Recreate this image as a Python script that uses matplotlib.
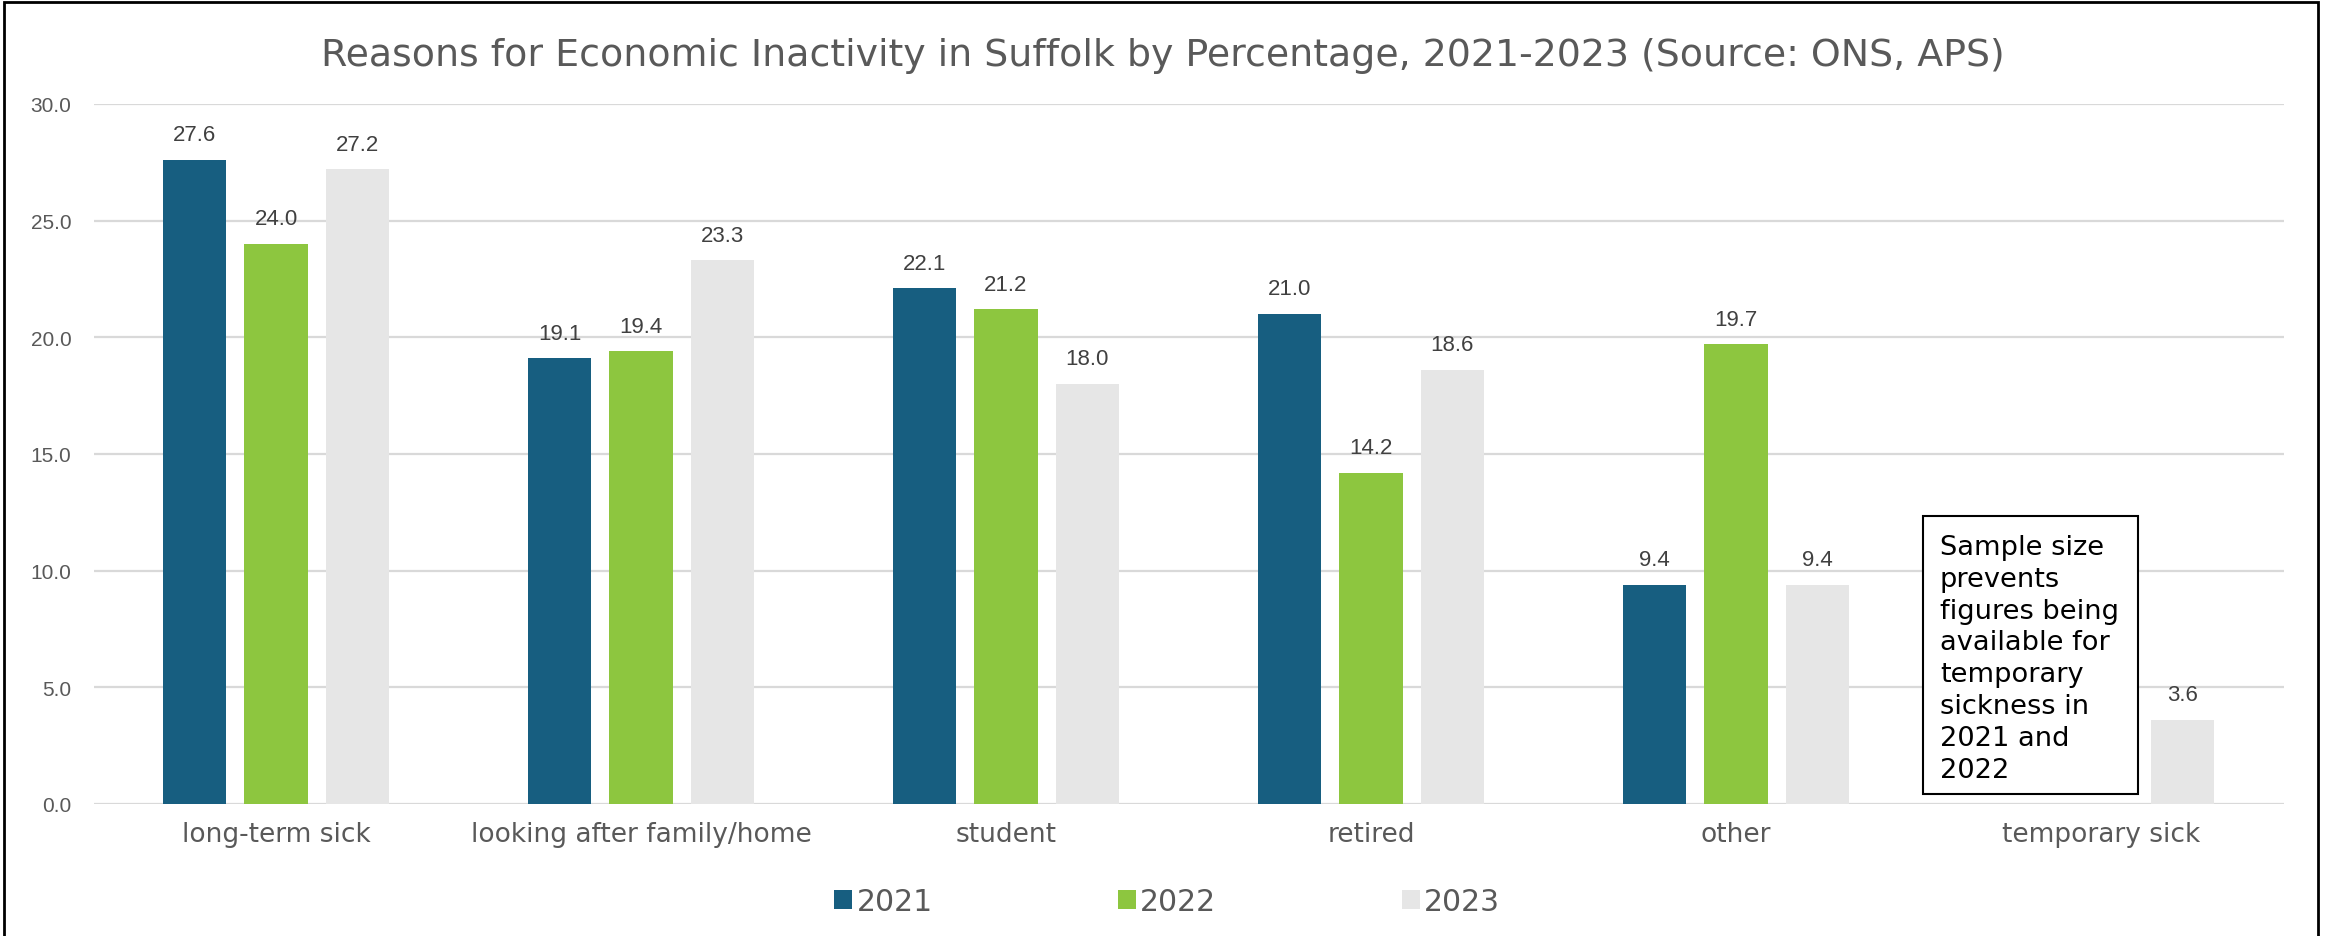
import matplotlib
matplotlib.use("Agg")
import matplotlib.pyplot as plt
from matplotlib.patches import Rectangle
import numpy as np

categories = ["long-term sick", "looking after family/home", "student", "retired", "other", "temporary sick"]
years = ["2021", "2022", "2023"]
v2021 = [27.6, 19.1, 22.1, 21.0, 9.4, None]
v2022 = [24.0, 19.4, 21.2, 14.2, 19.7, None]
v2023 = [27.2, 23.3, 18.0, 18.6, 9.4, 3.6]
yticks = [0, 5, 10, 15, 20, 25, 30]
title = "Reasons for Economic Inactivity in Suffolk by Percentage, 2021-2023 (Source: ONS, APS)"
note = "Sample size\nprevents\nfigures being\navailable for\ntemporary\nsickness in\n2021 and\n2022"

colors = ["#175E80", "#8DC63F", "#E6E6E6"]
W, H = 2325, 937
fig = plt.figure(figsize=(W / 100, H / 100), dpi=100)
ax = fig.add_axes([93.5 / W, 1 - 805 / H, (2283.5 - 93.5) / W, 700 / H])

x = np.arange(len(categories))
offsets = [-0.223, 0.0, 0.223]
bw = 0.174
for vals, off, col, yr in zip([v2021, v2022, v2023], offsets, colors, years):
    xs = [xi + off for xi, v in zip(x, vals) if v is not None]
    ys = [v for v in vals if v is not None]
    bars = ax.bar(xs, ys, width=bw, color=col, label=yr, zorder=3)
    for b, v in zip(bars, ys):
        ax.annotate(f"{v:.1f}", (b.get_x() + b.get_width() / 2, v),
                    xytext=(0, 18), textcoords="offset points",
                    ha="center", va="center", fontsize=16,
                    family="Liberation Sans", color="#404040")

ax.set_xlim(-0.5, len(categories) - 0.5)
ax.set_ylim(0, 30)
ax.set_yticks(yticks)
ax.set_yticklabels([f"{t:.1f}" for t in yticks], family="Liberation Sans", fontsize=15, color="#595959")
ax.set_xticks(x)
ax.set_xticklabels(categories, fontsize=19, color="#595959", family="DejaVu Sans")
ax.tick_params(axis="both", length=0)
ax.tick_params(axis="y", pad=16)
ax.tick_params(axis="x", pad=12)
ax.grid(axis="y", color="#D9D9D9", linewidth=1.6, zorder=0)
ax.set_axisbelow(True)
for s in ax.spines.values():
    s.set_visible(False)

fig.text(0.5, 1 - 56 / H, title, ha="center", va="center", fontsize=27.3, color="#595959", family="DejaVu Sans")

leg = fig.legend(loc="center", bbox_to_anchor=(0.502, 1 - 903 / H), ncol=3, frameon=False,
                 fontsize=21.5, handlelength=0.6, handleheight=0.6, handletextpad=0.15,
                 columnspacing=6.2)
for t in leg.get_texts():
    t.set_color("#595959")

# note box
box = Rectangle((1923 / W, 1 - 795 / H), 215 / W, 278 / H, transform=fig.transFigure,
                facecolor="white", edgecolor="black", linewidth=1.5, zorder=5, clip_on=False)
ax.add_patch(box)
ax.text(1940 / W, 1 - 535 / H, note, transform=fig.transFigure, ha="left", va="top",
        fontsize=19.6, color="black", family="DejaVu Sans", linespacing=1.29, zorder=6, clip_on=False)

# outer border
border = Rectangle((4 / W, -0.05), (2318 - 4) / W, 1.05 - 3 / H, transform=fig.transFigure,
                   facecolor="none", edgecolor="black", linewidth=2.0, zorder=10, clip_on=False)
fig.patches.append(border)

fig.savefig("out.png", dpi=100)
